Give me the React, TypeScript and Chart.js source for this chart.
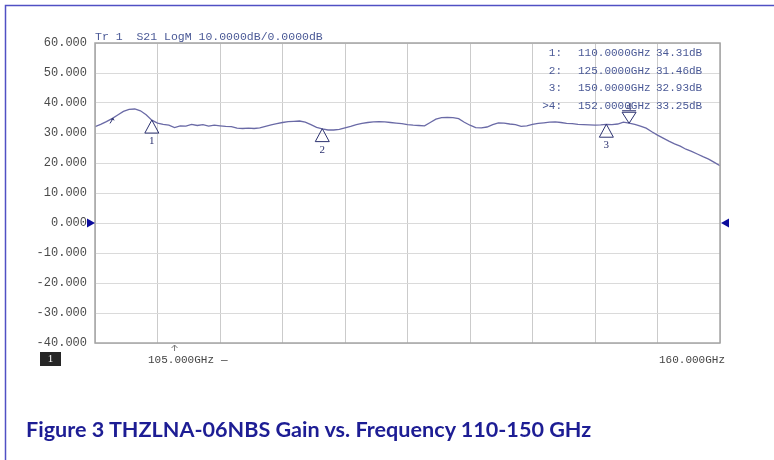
import React, { useEffect, useRef } from "react";
import { Chart, registerables } from "chart.js";

Chart.register(...registerables);

// Trace: S21 gain (dB) vs frequency (GHz)
const freqGHz = [
  105.0, 105.5, 106.0, 106.5, 107.0, 107.5, 108.0, 108.5, 109.0, 109.5,
  110.0, 110.5, 111.0, 111.5, 112.0, 112.5, 113.0, 113.5, 114.0, 114.5,
  115.0, 115.5, 116.0, 116.5, 117.0, 117.5, 118.0, 118.5, 119.0, 119.5,
  120.0, 120.5, 121.0, 121.5, 122.0, 122.5, 123.0, 123.5, 124.0, 124.5,
  125.0, 125.5, 126.0, 126.5, 127.0, 127.5, 128.0, 128.5, 129.0, 129.5,
  130.0, 130.5, 131.0, 131.5, 132.0, 132.5, 133.0, 133.5, 134.0, 134.5,
  135.0, 135.5, 136.0, 136.5, 137.0, 137.5, 138.0, 138.5, 139.0, 139.5,
  140.0, 140.5, 141.0, 141.5, 142.0, 142.5, 143.0, 143.5, 144.0, 144.5,
  145.0, 145.5, 146.0, 146.5, 147.0, 147.5, 148.0, 148.5, 149.0, 149.5,
  150.0, 150.5, 151.0, 151.5, 152.0, 152.5, 153.0, 153.5, 154.0, 154.5,
  155.0, 155.5, 156.0, 156.5, 157.0, 157.5, 158.0, 158.5, 159.0, 159.5,
  160.0,
];
const gainDb = [
  32.1, 32.9, 33.8, 34.8, 36.0, 37.2, 37.9, 38.0, 37.4, 36.1,
  34.3, 33.3, 32.9, 32.6, 31.8, 32.4, 32.3, 32.9, 32.5, 32.8,
  32.3, 32.6, 32.4, 32.2, 32.1, 31.6, 31.5, 31.6, 31.5, 31.7,
  32.2, 32.7, 33.1, 33.5, 33.8, 33.9, 34.0, 33.6, 32.8, 31.9,
  31.4, 31.0, 31.0, 31.2, 31.7, 32.2, 32.8, 33.2, 33.5, 33.7,
  33.8, 33.7, 33.5, 33.3, 33.1, 32.8, 32.6, 32.5, 32.4, 33.5,
  34.6, 35.1, 35.2, 35.1, 34.8, 33.6, 32.6, 31.8, 31.7, 32.0,
  32.8, 33.4, 33.3, 33.0, 32.8, 32.2, 32.4, 32.9, 33.2, 33.4,
  33.6, 33.7, 33.5, 33.2, 33.1, 32.9, 32.8, 32.7, 32.6, 32.7,
  32.9, 32.8, 33.0, 33.6, 33.3, 32.9, 32.3, 31.6, 30.4, 29.3,
  28.3, 27.3, 26.4, 25.6, 24.6, 23.9, 23.0, 22.1, 21.3, 20.2,
  19.1,
];

// Markers
const markerIds = ["1", "2", "3", "4"];
const markerFreqs = [110, 125, 150, 152];
const markerGains = [34.31, 31.46, 32.93, 33.25];
const activeMarker = 3;

// Axis settings / labels
const yMin = -40;
const yMax = 60;
const yStep = 10;
const xStart = 105;
const xStop = 160;
const xDivisions = 10;
const refLevel = 0;
const headerText = "Tr 1  S21 LogM 10.0000dB/0.0000dB";
const startLabel = "105.000GHz";
const stopLabel = "160.000GHz";
const channelLabel = "1";
const caption = "Figure 3 THZLNA-06NBS Gain vs. Frequency 110-150 GHz";

const MONO = "'Liberation Mono', 'DejaVu Sans Mono', monospace";
const INFO_COLOR = "#4a5996";
const MARK_COLOR = "#2c3270";

const overlayPlugin = {
  id: "vnaOverlay",
  afterDatasetsDraw(chart: any) {
    const { ctx, chartArea, scales } = chart;
    const xs = scales.x;
    const ys = scales.y;
    ctx.save();

    // frame
    ctx.strokeStyle = "#a4a4a4";
    ctx.lineWidth = 1.5;
    ctx.strokeRect(chartArea.left, chartArea.top, chartArea.right - chartArea.left, chartArea.bottom - chartArea.top);

    // header
    ctx.fillStyle = INFO_COLOR;
    ctx.font = `11.5px ${MONO}`;
    ctx.textAlign = "left";
    ctx.textBaseline = "middle";
    ctx.fillText(headerText, chartArea.left, chartArea.top - 6);

    // marker table
    ctx.font = `11px ${MONO}`;
    for (let i = 0; i < markerIds.length; i++) {
      const yy = chartArea.top + 10 + i * 17.7;
      ctx.textAlign = "right";
      ctx.fillText((i === activeMarker ? ">" : "") + markerIds[i] + ":", 562, yy);
      ctx.textAlign = "left";
      ctx.fillText(markerFreqs[i].toFixed(4) + "GHz", 578, yy);
      ctx.fillText(markerGains[i].toFixed(2) + "dB", 656, yy);
    }

    // markers
    ctx.strokeStyle = MARK_COLOR;
    ctx.fillStyle = MARK_COLOR;
    ctx.lineWidth = 1;
    ctx.font = "11px 'Liberation Serif', serif";
    ctx.textAlign = "center";
    for (let i = 0; i < markerIds.length; i++) {
      const px = xs.getPixelForValue(markerFreqs[i]);
      const py = ys.getPixelForValue(markerGains[i]);
      ctx.beginPath();
      if (i === activeMarker) {
        ctx.moveTo(px, py);
        ctx.lineTo(px - 7, py - 11);
        ctx.lineTo(px + 7, py - 11);
        ctx.closePath();
        ctx.stroke();
        ctx.beginPath();
        ctx.moveTo(px - 7, py - 12.5);
        ctx.lineTo(px + 7, py - 12.5);
        ctx.stroke();
        ctx.fillText(markerIds[i], px, py - 16);
      } else {
        ctx.moveTo(px, py);
        ctx.lineTo(px - 7, py + 13);
        ctx.lineTo(px + 7, py + 13);
        ctx.closePath();
        ctx.stroke();
        ctx.fillText(markerIds[i], px, py + 21);
      }
    }

    // reference level arrows
    const ry = ys.getPixelForValue(refLevel);
    ctx.fillStyle = "#0c0c9c";
    ctx.beginPath();
    ctx.moveTo(chartArea.left - 8, ry - 4.5);
    ctx.lineTo(chartArea.left - 8, ry + 4.5);
    ctx.lineTo(chartArea.left, ry);
    ctx.closePath();
    ctx.fill();
    ctx.beginPath();
    ctx.moveTo(chartArea.right + 9, ry - 4.5);
    ctx.lineTo(chartArea.right + 9, ry + 4.5);
    ctx.lineTo(chartArea.right + 1, ry);
    ctx.closePath();
    ctx.fill();

    // small trace arrow
    ctx.strokeStyle = MARK_COLOR;
    ctx.lineWidth = 1;
    const ax = xs.getPixelForValue(106.5);
    const ay = ys.getPixelForValue(34.2);
    ctx.beginPath();
    ctx.moveTo(ax - 2, ay + 3);
    ctx.lineTo(ax + 1, ay - 2);
    ctx.moveTo(ax - 1, ay - 1);
    ctx.lineTo(ax + 1, ay - 2);
    ctx.lineTo(ax + 2, ay);
    ctx.stroke();

    // stimulus arrow under axis
    const bx = xs.getPixelForValue(112);
    const by = chartArea.bottom + 2;
    ctx.strokeStyle = "#777";
    ctx.beginPath();
    ctx.moveTo(bx, by);
    ctx.lineTo(bx, by + 6);
    ctx.moveTo(bx - 3, by + 3);
    ctx.lineTo(bx, by);
    ctx.lineTo(bx + 3, by + 3);
    ctx.stroke();

    // x labels
    ctx.fillStyle = "#444";
    ctx.font = `11px ${MONO}`;
    ctx.textBaseline = "middle";
    ctx.textAlign = "left";
    ctx.fillText(startLabel, 148, chartArea.bottom + 17);
    ctx.fillText("—", 221, chartArea.bottom + 17);
    ctx.textAlign = "right";
    ctx.fillText(stopLabel, chartArea.right + 5, chartArea.bottom + 17);

    // channel box
    ctx.fillStyle = "#262626";
    ctx.fillRect(40, chartArea.bottom + 9, 21, 14);
    ctx.fillStyle = "#ffffff";
    ctx.textAlign = "center";
    ctx.font = "11px 'Liberation Serif', serif";
    ctx.fillText(channelLabel, 50.5, chartArea.bottom + 16.5);

    // page border (top/left)
    ctx.strokeStyle = "#5050c4";
    ctx.lineWidth = 1.5;
    ctx.beginPath();
    ctx.moveTo(5.5, chart.height);
    ctx.lineTo(5.5, 5.5);
    ctx.lineTo(chart.width, 5.5);
    ctx.stroke();

    ctx.restore();
  },
};

export default function App() {
  const canvasRef = useRef<HTMLCanvasElement | null>(null);

  useEffect(() => {
    if (!canvasRef.current) return;
    const xGrid = Array.from({ length: xDivisions + 1 }, (_, i) => xStart + (i * (xStop - xStart)) / xDivisions);
    const chart = new Chart(canvasRef.current, {
      type: "line",
      data: {
        datasets: [
          {
            label: "S21",
            data: freqGHz.map((f, i) => ({ x: f, y: gainDb[i] })),
            borderColor: "#6a6aa6",
            borderWidth: 1.3,
            pointRadius: 0,
            tension: 0,
            fill: false,
          },
        ],
      },
      options: {
        animation: false,
        responsive: false,
        maintainAspectRatio: false,
        devicePixelRatio: 1,
        layout: { padding: { left: 0, top: 43, right: 54, bottom: 117 } },
        plugins: { legend: { display: false }, tooltip: { enabled: false }, title: { display: false } },
        scales: {
          x: {
            type: "linear",
            min: xStart,
            max: xStop,
            afterBuildTicks: (s: any) => {
              s.ticks = xGrid.map((v) => ({ value: v }));
            },
            afterFit: (s: any) => {
              s.height = 0;
            },
            ticks: { display: false },
            grid: { color: "#cbcbcb", lineWidth: 1, drawTicks: false },
            border: { display: false },
          },
          y: {
            type: "linear",
            min: yMin,
            max: yMax,
            afterFit: (s: any) => {
              s.width = 95;
            },
            ticks: {
              stepSize: yStep,
              padding: 8,
              color: "#4a4a4a",
              font: { family: MONO, size: 12 },
              callback: (v: any) => Number(v).toFixed(3),
            },
            grid: { color: "#dadada", lineWidth: 1, drawTicks: false },
            border: { display: false },
          },
        },
      },
      plugins: [overlayPlugin],
    });
    return () => chart.destroy();
  }, []);

  return (
    <div style={{ position: "absolute", left: 0, top: 0, width: 774, height: 460, background: "#fff", overflow: "hidden" }}>
      <canvas ref={canvasRef} width={774} height={460} style={{ display: "block", width: 774, height: 460 }} />
      <div
        style={{
          position: "absolute",
          left: 26,
          top: 416,
          fontFamily: "Lato, 'Open Sans', sans-serif",
          fontWeight: 700,
          fontSize: 21.6,
          lineHeight: "26px",
          color: "#1d1d94",
          whiteSpace: "nowrap",
        }}
      >
        {caption}
      </div>
    </div>
  );
}
